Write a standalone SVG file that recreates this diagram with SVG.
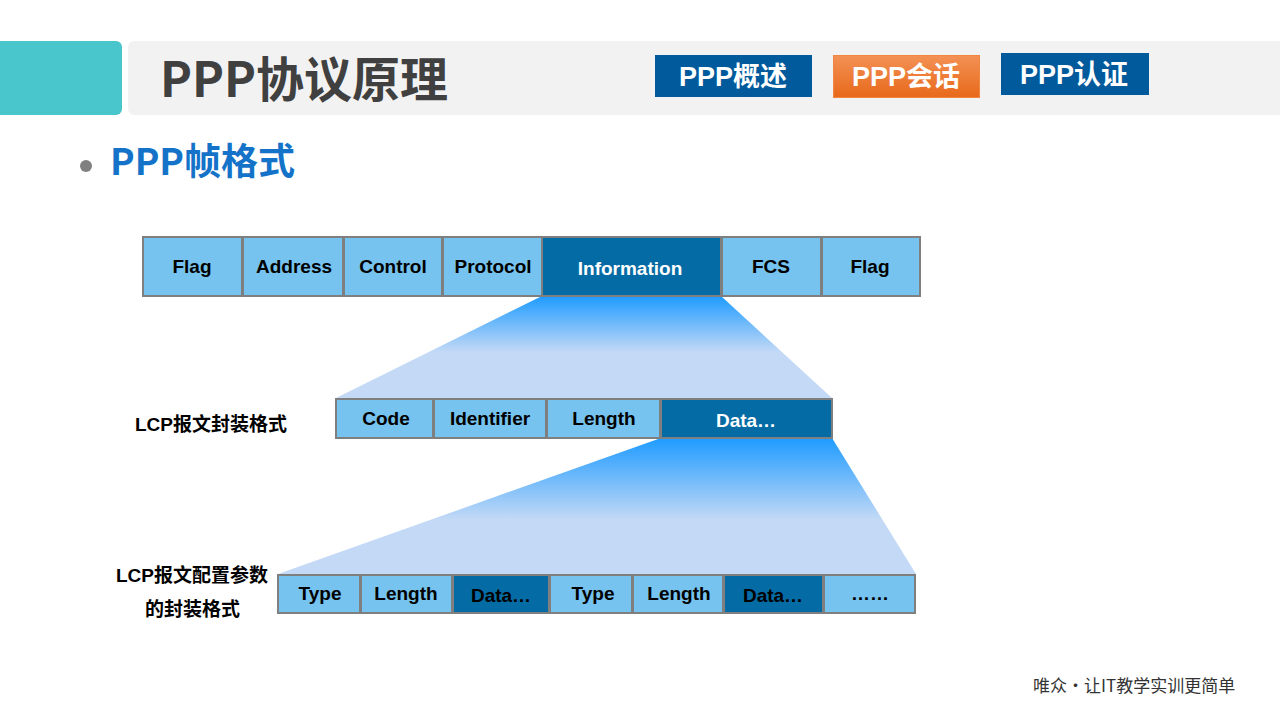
<svg xmlns="http://www.w3.org/2000/svg" width="1280" height="720" viewBox="0 0 1280 720">
<defs>
<linearGradient id="fan1" x1="0" y1="296" x2="0" y2="398" gradientUnits="userSpaceOnUse">
<stop offset="0" stop-color="#1E9BFF"/><stop offset="0.55" stop-color="#C3D9F6"/><stop offset="1" stop-color="#C3D9F6"/>
</linearGradient>
<linearGradient id="fan2" x1="0" y1="438" x2="0" y2="574" gradientUnits="userSpaceOnUse">
<stop offset="0" stop-color="#1E9BFF"/><stop offset="0.6" stop-color="#C3D9F6"/><stop offset="1" stop-color="#C3D9F6"/>
</linearGradient>
<linearGradient id="orange" x1="0" y1="0" x2="0" y2="1">
<stop offset="0" stop-color="#F39155"/><stop offset="1" stop-color="#E8691A"/>
</linearGradient>
<style>
.cell{fill:#75C3EE;stroke:#7F7F7F;stroke-width:2}
.dark{fill:#056BA5;stroke:#7F7F7F;stroke-width:2}
.t{font-family:"Liberation Sans",Arial,sans-serif;font-weight:bold;font-size:19px;text-anchor:middle;fill:#000}
.w{fill:#FFFFFF}
.lbl{font-family:"Liberation Sans","Noto Sans CJK SC",sans-serif;font-weight:bold;font-size:19px;fill:#000}
.btn{font-family:"Liberation Sans","Noto Sans CJK SC",sans-serif;font-weight:bold;font-size:27px;fill:#FFFFFF;text-anchor:middle}
</style>
</defs>
<rect width="1280" height="720" fill="#FFFFFF"/>
<g id="header">
<rect x="-10" y="41" width="132" height="74" rx="6" fill="#48C6CC"/>
<rect x="128" y="41" width="1162" height="74" rx="6" fill="#F2F2F2"/>
<text x="160" y="97" font-family="'Noto Sans CJK SC',sans-serif" font-weight="bold" font-size="48" fill="#404040">PPP协议原理</text>
</g>
<g id="btn1"><rect x="655" y="55" width="157" height="42" fill="#005A9C"/><text class="btn" x="733" y="86">PPP概述</text></g>
<g id="btn2"><rect x="833.5" y="55.5" width="146" height="42" fill="url(#orange)" stroke="#F0863F"/><text class="btn" x="906" y="86">PPP会话</text></g>
<g id="btn3"><rect x="1001" y="53" width="148" height="42" fill="#005A9C"/><text class="btn" x="1074" y="84">PPP认证</text></g>
<g id="subtitle">
<circle cx="86" cy="166" r="6" fill="#808080"/>
<text x="110" y="175" font-family="'Noto Sans CJK SC',sans-serif" font-weight="bold" font-size="37" fill="#1473C8">PPP帧格式</text>
</g>
<g id="connectors">
<polygon points="542,296 721,296 832,398 336,398" fill="url(#fan1)"/>
<polygon points="661,438 832,438 916,574 278,574" fill="url(#fan2)"/>
</g>
<g id="frame">
<rect class="cell" x="143" y="237" width="99" height="59"/><text class="t" x="192" y="273">Flag</text>
<rect class="cell" x="243" y="237" width="100" height="59"/><text class="t" x="294" y="273">Address</text>
<rect class="cell" x="344" y="237" width="98" height="59"/><text class="t" x="393" y="273">Control</text>
<rect class="cell" x="443" y="237" width="99" height="59"/><text class="t" x="493" y="273">Protocol</text>
<rect class="dark" x="542" y="237" width="179" height="59"/><text class="t w" x="630" y="275">Information</text>
<rect class="cell" x="722" y="237" width="99" height="59"/><text class="t" x="771" y="273">FCS</text>
<rect class="cell" x="822" y="237" width="98" height="59"/><text class="t" x="870" y="273">Flag</text>
</g>
<g id="lcp">
<text class="lbl" x="135" y="431">LCP报文封装格式</text>
<rect class="cell" x="336" y="399" width="97" height="39"/><text class="t" x="386" y="425">Code</text>
<rect class="cell" x="434" y="399" width="112" height="39"/><text class="t" x="490" y="425">Identifier</text>
<rect class="cell" x="547" y="399" width="113" height="39"/><text class="t" x="604" y="425">Length</text>
<rect class="dark" x="661" y="399" width="171" height="39"/><text class="t w" x="746" y="427">Data…</text>
</g>
<g id="options">
<text class="lbl" x="116" y="582">LCP报文配置参数</text>
<text class="lbl" x="145" y="616">的封装格式</text>
<rect class="cell" x="278" y="575" width="82" height="38"/><text class="t" x="320" y="600">Type</text>
<rect class="cell" x="361" y="575" width="91" height="38"/><text class="t" x="406" y="600">Length</text>
<rect class="dark" x="453" y="575" width="96" height="38"/><text class="t" x="501" y="602">Data…</text>
<rect class="cell" x="550" y="575" width="82" height="38"/><text class="t" x="593" y="600">Type</text>
<rect class="cell" x="633" y="575" width="90" height="38"/><text class="t" x="679" y="600">Length</text>
<rect class="dark" x="724" y="575" width="99" height="38"/><text class="t" x="773" y="602">Data…</text>
<rect class="cell" x="824" y="575" width="91" height="38"/><text class="t" x="870" y="600">……</text>
</g>
<g id="footer">
<text x="1033" y="692" font-family="'Noto Sans CJK SC',sans-serif" font-size="17" fill="#333333">唯众•让IT教学实训更简单</text>
</g>
</svg>
